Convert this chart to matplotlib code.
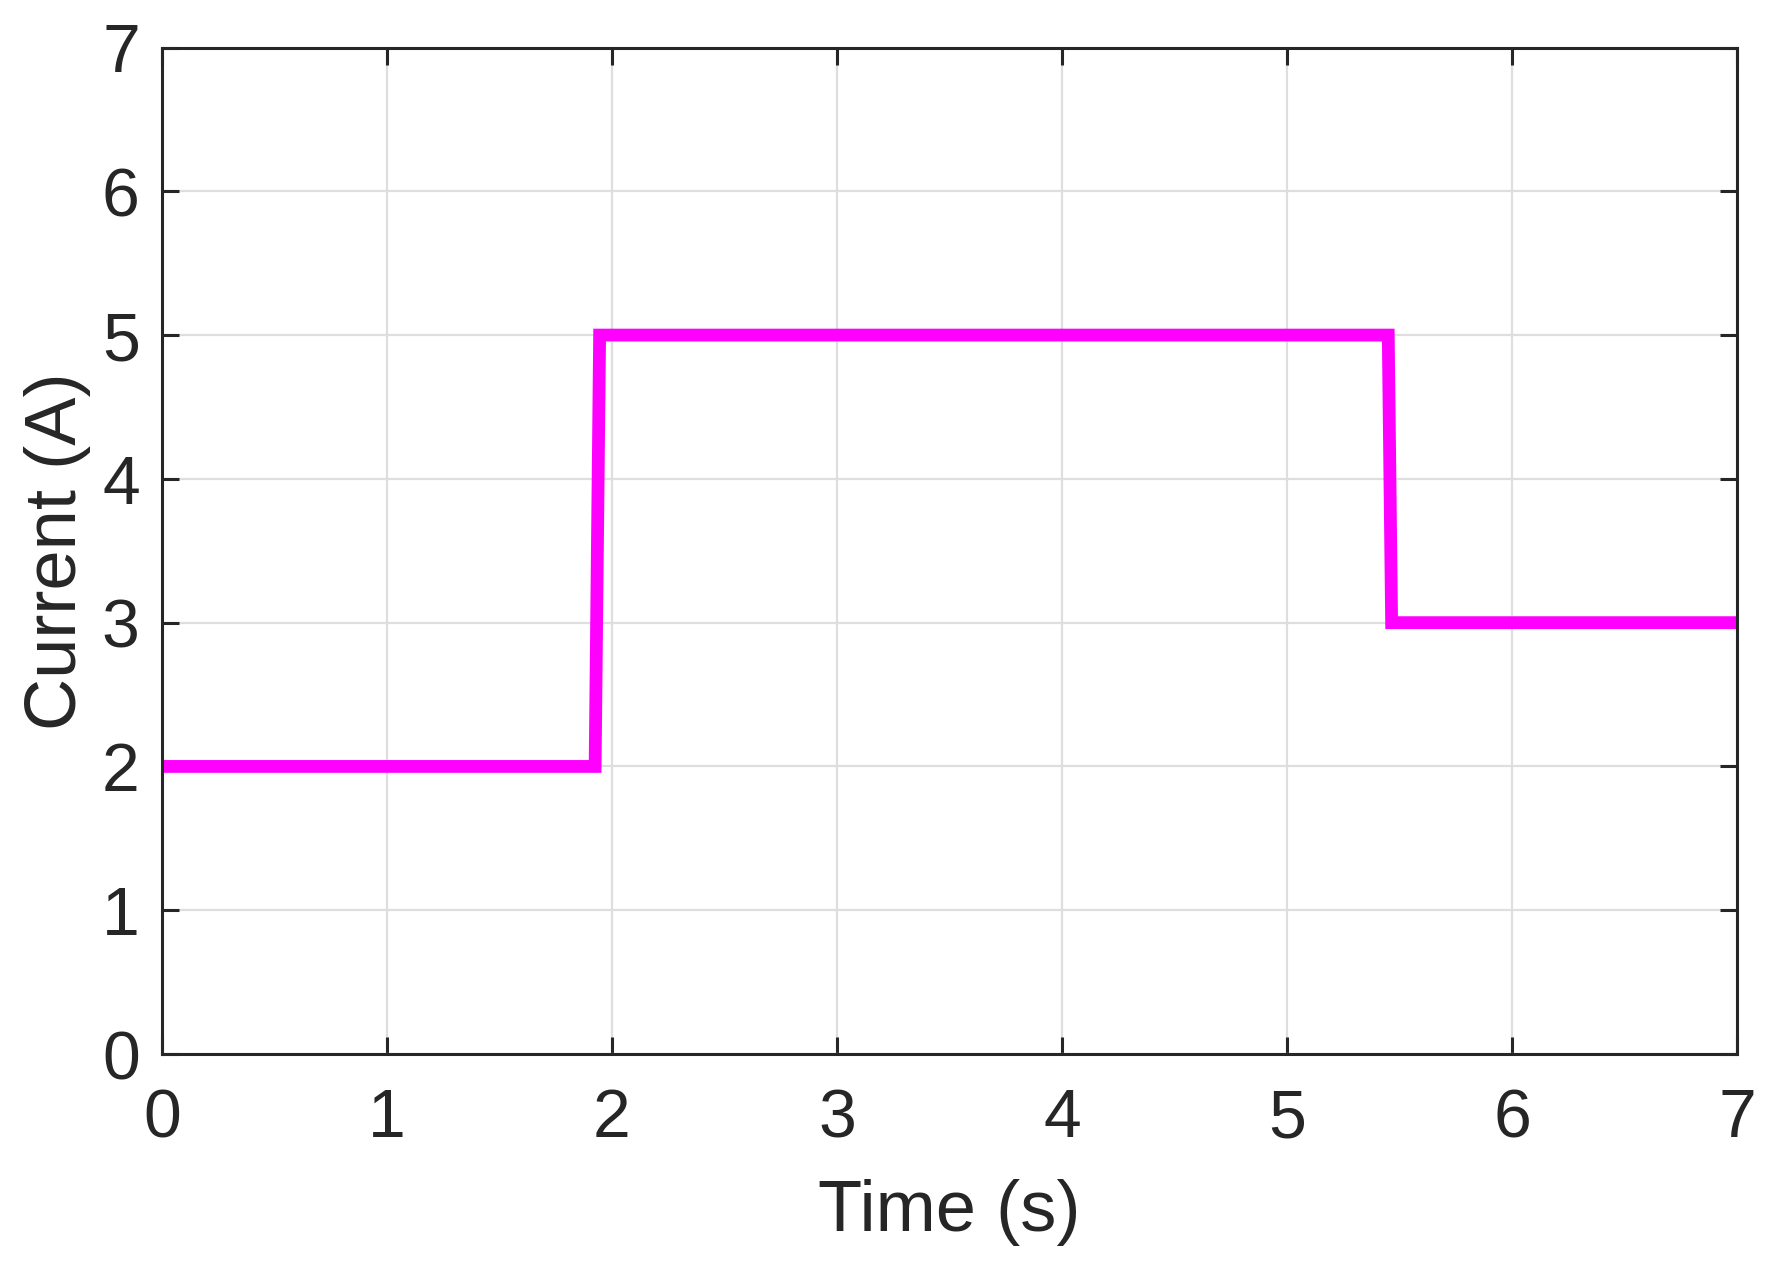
import numpy as np
import matplotlib
matplotlib.use('Agg')
from matplotlib import pyplot as plt

# step current profile
time_s = [0.0, 1.925, 1.945, 5.45, 5.465, 7.0]
current_a = [2.0, 2.0, 5.0, 5.0, 3.0, 3.0]
x_ticks = [0, 1, 2, 3, 4, 5, 6, 7]
y_ticks = [0, 1, 2, 3, 4, 5, 6, 7]

plt.rcParams['font.family'] = ['Liberation Sans', 'DejaVu Sans']
dark = '#262626'

fig = plt.figure(figsize=(1773 / 200, 1266 / 200), dpi=200)
ax = fig.add_axes([162 / 1773, 1 - 1054 / 1266, 1575 / 1773, 1006.5 / 1266])

ax.plot(time_s, current_a, color='#ff00ff', linewidth=4.6, solid_joinstyle='miter')

ax.set_xlim(0, 7)
ax.set_ylim(0, 7)
ax.set_xticks(x_ticks)
ax.set_yticks(y_ticks)
ax.grid(True, color='#dedede', linewidth=0.8)
ax.set_axisbelow(True)

for s in ax.spines.values():
    s.set_color(dark)
    s.set_linewidth(1.1)
ax.tick_params(direction='in', length=6, width=1.1, colors=dark, labelsize=24.5,
               top=True, right=True, pad=12)
ax.tick_params(axis='y', pad=8)
ax.set_xlabel('Time (s)', fontsize=26, color=dark, labelpad=10)
ax.set_ylabel('Current (A)', fontsize=26, color=dark, labelpad=4)

fig.savefig('out.png', dpi=200)
